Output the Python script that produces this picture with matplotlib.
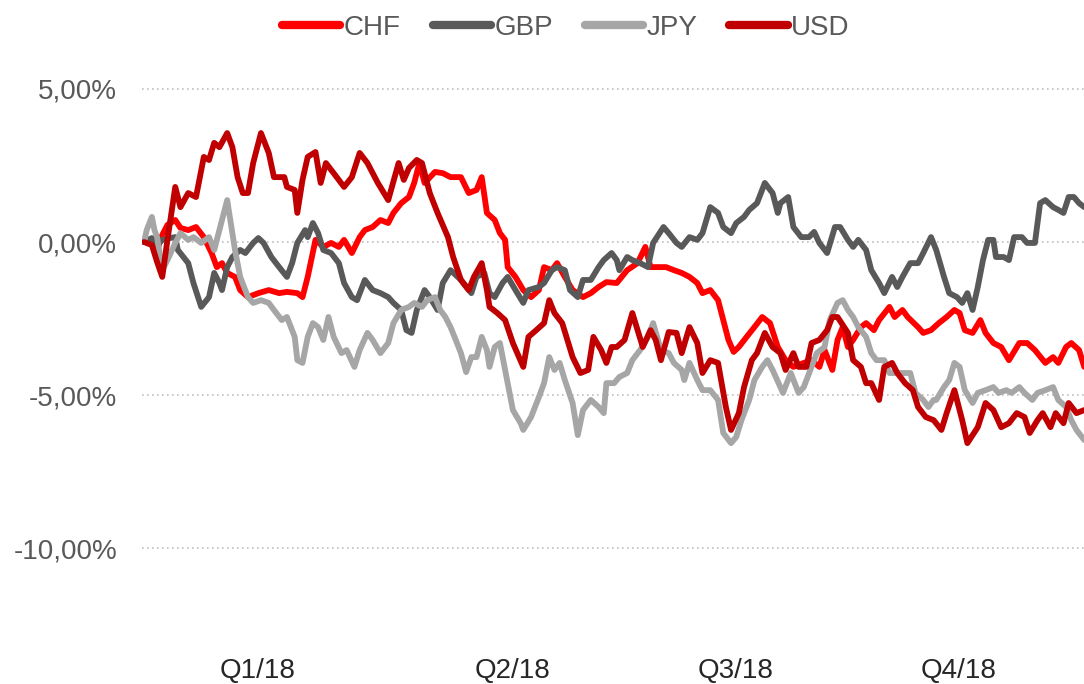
import matplotlib
matplotlib.use("Agg")
import matplotlib.pyplot as plt
from matplotlib.ticker import FuncFormatter

plt.rcParams['font.family'] = ['Liberation Sans', 'DejaVu Sans']

# Kursentwicklung 2018 (in %), x = Tage seit Jahresbeginn
chf_day = [0, 3, 5, 7, 9, 12, 14, 17, 20, 23, 26, 28, 30, 32, 35, 37, 40, 44, 48, 52,
           55, 59, 61, 63, 66, 69, 72, 75, 77, 80, 83, 85, 88, 91, 94, 96, 99, 102, 104, 106,
           108, 112, 115, 118, 122, 125, 128, 130, 132, 135, 137, 139, 140, 143, 146, 149, 152, 154, 157, 159,
           162, 165, 169, 172, 175, 178, 182, 186, 190, 193, 195, 198, 201, 204, 207, 210, 213, 215, 218, 221,
           223, 225, 227, 229, 232, 235, 238, 241, 244, 247, 250, 254, 257, 260, 262, 265, 267, 269, 271, 273,
           276, 278, 281, 283, 287, 289, 292, 294, 298, 300, 303, 306, 309, 312, 314, 316, 319, 322, 324, 327,
           330, 333, 337, 340, 343, 347, 350, 352, 355, 357, 360, 362]
chf_val = [0.00, 0.07, -0.26, 0.23, 0.56, 0.72, 0.46, 0.39, 0.49, 0.16, -0.36, -0.82, -0.69, -1.01, -1.14, -1.57, -1.80, -1.67, -1.57, -1.67,
           -1.63, -1.67, -1.80, -1.14, 0.07, -0.16, -0.03, -0.16, 0.07, -0.36, 0.16, 0.39, 0.49, 0.72, 0.62, 0.95, 1.27, 1.47, 1.93, 2.58,
           1.93, 2.29, 2.25, 2.12, 2.12, 1.60, 1.70, 2.12, 0.95, 0.72, 0.29, 0.07, -0.82, -1.14, -1.57, -1.80, -1.57, -0.82, -0.92, -0.69,
           -1.14, -1.57, -1.80, -1.67, -1.47, -1.31, -1.34, -0.92, -0.69, -0.16, -0.82, -0.82, -0.82, -0.92, -1.01, -1.14, -1.34, -1.67, -1.57, -1.90,
           -2.55, -3.20, -3.59, -3.43, -3.10, -2.78, -2.45, -2.65, -3.43, -3.86, -4.08, -3.95, -3.86, -4.08, -3.53, -4.18, -3.20, -2.78, -3.43, -3.20,
           -2.78, -2.65, -2.88, -2.55, -2.12, -2.45, -2.22, -2.45, -2.78, -2.97, -2.88, -2.65, -2.45, -2.22, -2.32, -2.88, -2.97, -2.55, -2.97, -3.30,
           -3.43, -3.86, -3.30, -3.30, -3.53, -3.95, -3.76, -3.95, -3.43, -3.30, -3.53, -4.08]

gbp_day = [0, 3, 5, 7, 10, 12, 13, 17, 19, 22, 25, 27, 29, 30, 32, 34, 37, 39, 42, 44,
           46, 49, 52, 55, 57, 59, 62, 63, 65, 67, 69, 72, 75, 77, 80, 82, 85, 88, 91, 94,
           96, 99, 101, 103, 105, 108, 110, 113, 115, 118, 122, 126, 128, 131, 133, 135, 138, 140, 143, 146,
           148, 152, 154, 157, 159, 162, 164, 167, 169, 172, 175, 177, 180, 182, 183, 186, 188, 191, 194, 196,
           200, 202, 205, 207, 210, 213, 215, 218, 221, 223, 226, 228, 231, 233, 236, 239, 242, 244, 245, 248,
           250, 253, 256, 258, 260, 263, 266, 268, 271, 273, 275, 278, 280, 283, 285, 288, 290, 292, 295, 298,
           300, 303, 305, 308, 310, 313, 315, 317, 319, 321, 323, 325, 327, 328, 331, 333, 335, 338, 340, 343,
           345, 347, 350, 352, 354, 356, 358, 360, 362]
gbp_val = [0.00, 0.13, -0.10, 0.07, 0.13, 0.16, -0.26, -0.69, -1.34, -2.12, -1.80, -1.01, -1.34, -1.57, -0.82, -0.49, -0.26, -0.36, -0.03, 0.13,
           -0.03, -0.49, -0.82, -1.14, -0.69, -0.03, 0.39, 0.16, 0.62, 0.29, -0.26, -0.36, -0.69, -1.34, -1.80, -1.90, -1.24, -1.57, -1.67, -1.80,
           -1.99, -2.22, -2.88, -2.97, -2.22, -1.57, -1.80, -2.22, -1.34, -0.92, -1.24, -1.67, -1.14, -1.01, -1.67, -1.80, -1.34, -1.14, -1.57, -1.99,
           -1.57, -1.47, -1.34, -0.92, -0.82, -0.92, -1.57, -1.80, -1.24, -1.24, -0.82, -0.59, -0.36, -0.59, -0.92, -0.49, -0.59, -0.69, -0.82, -0.03,
           0.49, 0.29, -0.03, -0.16, 0.16, 0.07, 0.29, 1.14, 0.95, 0.49, 0.29, 0.62, 0.82, 1.05, 1.27, 1.93, 1.60, 0.95, 1.27, 1.47,
           0.49, 0.16, 0.16, 0.33, -0.03, -0.36, 0.49, 0.49, 0.07, -0.16, 0.07, -0.26, -0.92, -1.34, -1.67, -1.14, -1.47, -1.14, -0.69, -0.69,
           -0.36, 0.16, -0.26, -1.14, -1.67, -1.80, -1.99, -1.67, -2.22, -1.47, -0.59, 0.07, 0.07, -0.49, -0.49, -0.59, 0.16, 0.16, -0.03, -0.03,
           1.27, 1.37, 1.14, 1.05, 0.95, 1.47, 1.47, 1.27, 1.14]

jpy_day = [0, 1, 3, 4, 5, 7, 9, 12, 14, 17, 19, 22, 25, 27, 30, 32, 33, 35, 37, 40,
           42, 45, 48, 50, 53, 55, 58, 59, 61, 63, 65, 67, 69, 71, 73, 76, 78, 81, 83, 86,
           88, 91, 94, 96, 99, 102, 104, 107, 109, 112, 114, 116, 118, 120, 122, 124, 126, 128, 130, 132,
           133, 135, 137, 140, 142, 145, 146, 149, 152, 154, 156, 158, 160, 162, 165, 167, 169, 172, 175, 177,
           178, 181, 183, 186, 188, 191, 194, 196, 199, 202, 204, 207, 208, 210, 213, 215, 218, 221, 223, 226,
           228, 230, 233, 235, 238, 240, 242, 245, 246, 249, 252, 254, 257, 259, 262, 264, 267, 269, 271, 273,
           275, 278, 280, 282, 285, 287, 290, 292, 295, 297, 300, 302, 304, 305, 308, 310, 312, 314, 316, 319,
           321, 324, 327, 329, 332, 334, 337, 339, 342, 344, 347, 350, 352, 355, 357, 359, 362]
jpy_val = [0.00, 0.39, 0.82, 0.39, 0.16, -0.92, -0.59, -0.03, 0.29, 0.07, 0.16, -0.03, 0.16, -0.26, 0.72, 1.37, 0.82, -0.26, -1.14, -1.80,
           -1.99, -1.90, -1.99, -2.22, -2.55, -2.45, -3.10, -3.86, -3.95, -3.10, -2.65, -2.78, -3.20, -2.45, -3.10, -3.63, -3.53, -4.08, -3.53, -2.97,
           -3.20, -3.63, -3.30, -2.65, -2.22, -2.12, -1.99, -2.12, -1.90, -1.80, -2.22, -2.45, -2.78, -3.20, -3.63, -4.25, -3.76, -3.76, -3.10, -3.53,
           -4.08, -3.43, -3.30, -4.61, -5.49, -5.92, -6.14, -5.72, -5.07, -4.61, -3.76, -4.18, -3.95, -4.51, -5.26, -6.31, -5.49, -5.16, -5.39, -5.59,
           -4.61, -4.61, -4.41, -4.28, -3.86, -3.53, -3.10, -2.65, -3.53, -3.63, -3.95, -4.18, -4.51, -3.95, -4.51, -4.84, -4.84, -5.16, -6.24, -6.57,
           -6.37, -5.82, -5.16, -4.51, -4.08, -3.86, -4.18, -4.74, -4.93, -4.28, -4.93, -4.74, -4.08, -3.63, -3.43, -2.55, -1.99, -1.90, -2.22, -2.45,
           -2.78, -3.10, -3.63, -3.86, -3.86, -4.28, -4.28, -4.28, -4.28, -4.93, -5.16, -5.39, -5.16, -5.16, -4.74, -4.51, -3.95, -4.08, -4.84, -5.26,
           -4.93, -4.84, -4.74, -4.93, -4.84, -4.93, -4.74, -4.93, -5.16, -4.93, -4.84, -4.74, -5.16, -5.39, -5.82, -6.14, -6.47]

usd_day = [0, 3, 5, 7, 9, 12, 14, 17, 20, 23, 25, 27, 29, 32, 34, 36, 38, 40, 42, 45,
           48, 50, 54, 55, 58, 59, 61, 63, 66, 68, 70, 73, 77, 80, 83, 86, 90, 94, 98, 100,
           102, 105, 107, 110, 113, 117, 119, 122, 125, 127, 130, 132, 133, 136, 139, 142, 146, 148, 151, 154,
           156, 158, 161, 165, 168, 171, 173, 176, 178, 180, 182, 185, 188, 190, 192, 195, 197, 199, 202, 205,
           207, 210, 213, 215, 218, 221, 224, 226, 229, 231, 234, 236, 239, 242, 245, 247, 250, 252, 255, 257,
           260, 263, 265, 267, 271, 273, 276, 278, 280, 283, 285, 288, 290, 293, 296, 298, 301, 304, 307, 309,
           312, 315, 317, 321, 324, 327, 330, 333, 336, 339, 341, 344, 346, 349, 351, 354, 356, 359, 362]
usd_val = [0.00, -0.10, -0.65, -1.14, 0.07, 1.80, 1.14, 1.60, 1.47, 2.78, 2.68, 3.24, 3.10, 3.56, 3.10, 2.12, 1.60, 1.60, 2.58, 3.56,
           2.91, 2.12, 2.12, 1.80, 1.70, 0.95, 2.03, 2.78, 2.94, 1.93, 2.58, 2.25, 1.80, 2.12, 2.91, 2.58, 1.93, 1.37, 2.58, 2.03,
           2.42, 2.68, 2.58, 1.60, 0.95, 0.16, -0.49, -1.24, -1.57, -1.14, -0.69, -1.57, -2.12, -2.32, -2.55, -3.30, -4.08, -3.10, -2.88, -2.65,
           -1.90, -2.32, -2.65, -3.76, -4.28, -4.18, -3.10, -3.53, -3.95, -3.43, -3.43, -3.20, -2.32, -2.88, -3.43, -2.88, -3.20, -3.86, -2.94, -2.97,
           -3.63, -2.78, -3.30, -4.28, -3.86, -3.95, -5.39, -6.14, -5.59, -4.74, -3.86, -3.63, -2.97, -3.43, -3.63, -4.18, -3.63, -4.08, -4.08, -3.30,
           -3.20, -2.88, -2.45, -2.45, -2.97, -3.86, -4.08, -4.61, -4.61, -5.16, -4.08, -3.95, -4.28, -4.61, -4.84, -5.39, -5.72, -5.82, -6.14, -5.59,
           -4.84, -5.82, -6.57, -6.05, -5.26, -5.49, -6.05, -5.92, -5.59, -5.72, -6.24, -5.82, -5.59, -6.05, -5.59, -5.92, -5.26, -5.59, -5.49]

quarter_labels = ["Q1/18", "Q2/18", "Q3/18", "Q4/18"]
y_ticks = [5, 0, -5, -10]

series = [
    ("CHF", chf_day, chf_val, "#ff0000"),
    ("GBP", gbp_day, gbp_val, "#595959"),
    ("JPY", jpy_day, jpy_val, "#a6a6a6"),
    ("USD", usd_day, usd_val, "#c00000"),
]


def plot_fx():
    fig = plt.figure(figsize=(10.84, 6.84), dpi=100)
    ax = fig.add_axes([0.131, 0.0497, 0.869, 0.8918])

    for name, days, vals, col in series:
        ax.plot(days, vals, color=col, lw=4.2, label=name,
                solid_joinstyle="round", solid_capstyle="round")

    ax.set_xlim(-0.8, 361.9)
    ax.set_ylim(-13.33, 6.60)

    # Quartalsbeschriftung
    ax.set_xticks([43.8, 141.9, 227.7, 313.5])
    ax.set_xticklabels(quarter_labels)
    ax.set_yticks(y_ticks)
    ax.yaxis.set_major_formatter(FuncFormatter(lambda v, p: f"{v:.2f}%".replace(".", ",")))

    ax.tick_params(axis="both", length=0, labelsize=20)
    ax.tick_params(axis="y", pad=18, labelcolor="#595959")
    ax.tick_params(axis="x", pad=6, labelcolor="#262626")

    ax.grid(axis="y", color="#bfbfbf", linestyle=(0, (1, 2)), lw=1.2)
    ax.set_axisbelow(True)
    for s in ax.spines.values():
        s.set_visible(False)

    leg = fig.legend(loc="center", bbox_to_anchor=(0.522, 0.959), ncol=4, frameon=False,
                     fontsize=20, handlelength=2.1, handletextpad=0.12, columnspacing=1.15)
    for line in leg.get_lines():
        line.set_linewidth(6)
        line.set_solid_capstyle("round")
    for t in leg.get_texts():
        t.set_color("#595959")

    fig.savefig("out.png", dpi=100)


if __name__ == "__main__":
    plot_fx()
